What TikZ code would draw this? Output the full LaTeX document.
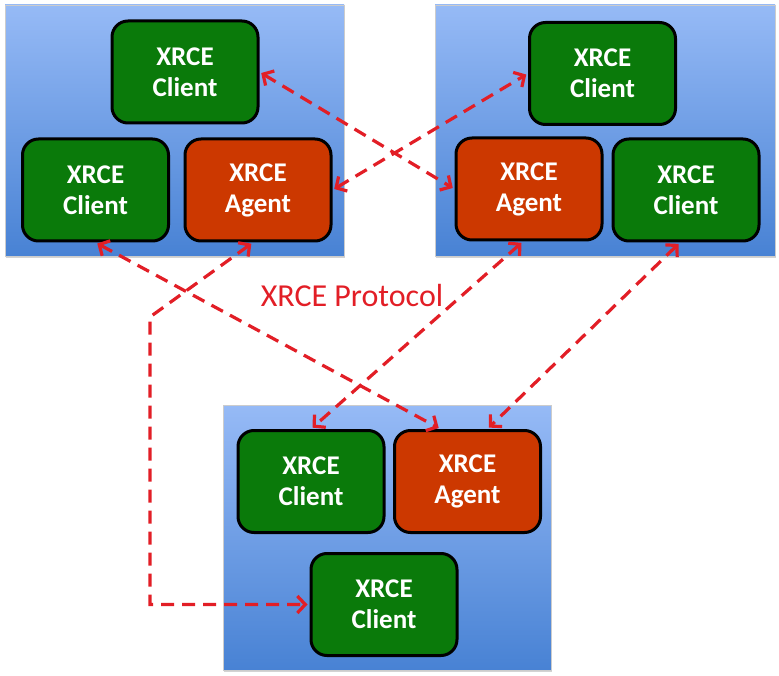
\documentclass[tikz,border=0pt]{standalone}
\usepackage{fontspec}
\setmainfont{Carlito}
\usepackage{xcolor}
\usetikzlibrary{arrows.meta, positioning, calc, shadows}

\definecolor{boxtop}{RGB}{150,186,246}
\definecolor{boxbot}{RGB}{72,130,212}
\definecolor{clientgreen}{RGB}{10,122,10}
\definecolor{agentred}{RGB}{204,56,0}
\definecolor{linkred}{RGB}{226,30,38}

\begin{document}
\begin{tikzpicture}[x=1pt, y=-1pt,
        device/.style={rectangle, draw=black!20, top color=boxtop, bottom color=boxbot, inner sep=0pt, drop shadow={shadow xshift=1pt, shadow yshift=-2pt, opacity=0.35}},
        client/.style={rectangle, rounded corners=16pt, draw=black, line width=3pt, fill=clientgreen, text=white, font=\fontsize{27}{31}\selectfont\bfseries, align=center, minimum width=146pt, minimum height=102pt, inner sep=0pt},
        agent/.style={client, fill=agentred},
        link/.style={draw=linkred, line width=3.2pt, dash pattern=on 13pt off 8pt, {Straight Barb[length=8pt,width=17pt]}-{Straight Barb[length=8pt,width=17pt]}, shorten <=2pt, shorten >=2pt}
    ]
        \useasboundingbox (0,0) rectangle (779,676);

        % Device boxes
        \node[device, minimum width=339pt, minimum height=251pt] (devl) at (174.5,130.5) {};
        \node[device, minimum width=340pt, minimum height=251pt] (devr) at (605,130.5) {};
        \node[device, minimum width=328pt, minimum height=265pt] (devb) at (387,537.5) {};

        % Left device
        \node[client] (lcli1) at (185,72) {XRCE\\Client};
        \node[client] (lcli2) at (95.5,190) {XRCE\\Client};
        \node[agent] (lagt) at (258,190) {XRCE\\Agent};

        % Right device
        \node[client] (rcli1) at (602.5,73.5) {XRCE\\Client};
        \node[agent] (ragt) at (529,189) {XRCE\\Agent};
        \node[client] (rcli2) at (686,190) {XRCE\\Client};

        % Bottom device
        \node[client] (bcli1) at (311,481.5) {XRCE\\Client};
        \node[agent] (bagt) at (467.5,481.5) {XRCE\\Agent};
        \node[client] (bcli2) at (384,604.5) {XRCE\\Client};

        % Protocol label
        \node[text=linkred, font=\fontsize{32}{38}\selectfont] (proto) at (352,296) {XRCE Protocol};

        % Links
        \coordinate (bend) at (150,317);
        \draw[link] (lcli1.east) -- (ragt.west);
        \draw[link] (lagt.east) -- (rcli1.west);
        \draw[link] (lcli2.south) -- ([xshift=-27pt]bagt.north);
        \draw[link] ([xshift=-5pt]lagt.south) -- (bend) |- (bcli2.west);
        \draw[link] ([xshift=-6pt]ragt.south) -- (bcli1.north);
        \draw[link] ([xshift=-6pt]rcli2.south) -- ([xshift=20pt]bagt.north);

    \end{tikzpicture}
\end{document}
